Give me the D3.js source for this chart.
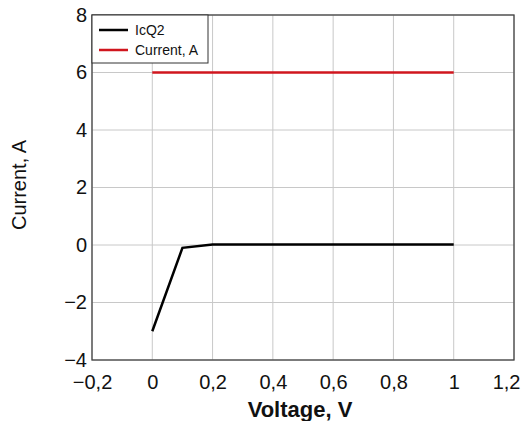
<!DOCTYPE html>
<html><head><meta charset="utf-8">
<script src="https://cdn.jsdelivr.net/npm/d3@7"></script>
<style>body{margin:0;background:#fff}</style>
</head><body>
<svg id="c" width="530" height="421"></svg>
<script>
const xTicks = [-0.2, 0, 0.2, 0.4, 0.6, 0.8, 1, 1.2];
const yTicks = [-4, -2, 0, 2, 4, 6, 8];
const icq2X = [0, 0.1, 0.2, 0.3, 0.4, 0.5, 0.6, 0.7, 0.8, 0.9, 1];
const icq2Y = [-3, -0.1, 0.02, 0.02, 0.02, 0.02, 0.02, 0.02, 0.02, 0.02, 0.02];
const curX = [0, 0.1, 0.2, 0.3, 0.4, 0.5, 0.6, 0.7, 0.8, 0.9, 1];
const curY = [6, 6, 6, 6, 6, 6, 6, 6, 6, 6, 6];
const seriesNames = ["IcQ2", "Current, A"];
const seriesColors = ["#000000", "#d0161e"];

const FONT = "Liberation Sans, Arial, sans-serif";
const svg = d3.select("#c");
const L = 92, R = 514, T = 15, B = 360;
const x = d3.scaleLinear().domain([-0.2, 1.2]).range([L, R]);
const y = d3.scaleLinear().domain([-4, 8]).range([B, T]);
const fmt = d => (d < 0 ? "\u2212" : "") + String(Math.abs(+d.toFixed(1))).replace(".", ",");

// grid
svg.append("g").selectAll("line").data(xTicks).join("line")
  .attr("x1", d => x(d)).attr("x2", d => x(d)).attr("y1", T).attr("y2", B)
  .attr("stroke", "#c8c8c8").attr("stroke-width", 1);
svg.append("g").selectAll("line").data(yTicks).join("line")
  .attr("y1", d => y(d)).attr("y2", d => y(d)).attr("x1", L).attr("x2", R)
  .attr("stroke", "#c8c8c8").attr("stroke-width", 1);

// axes
const xa = svg.append("g").attr("transform", `translate(0,${B})`)
  .call(d3.axisBottom(x).tickValues(xTicks).tickFormat(fmt).tickSize(0));
const ya = svg.append("g").attr("transform", `translate(${L},0)`)
  .call(d3.axisLeft(y).tickValues(yTicks).tickFormat(fmt).tickSize(0).tickPadding(5));
[xa, ya].forEach(a => {
  a.select(".domain").remove();
  a.selectAll("text").attr("font-family", FONT)
    .attr("font-size", 20).attr("fill", "#111");
});
xa.selectAll("text").attr("y", 29).attr("dy", 0);
xa.selectAll(".tick").filter(d => d === 1.2).select("text")
  .attr("text-anchor", "end").attr("x", 6);

// frame
svg.append("rect").attr("x", L).attr("y", T).attr("width", R - L).attr("height", B - T)
  .attr("fill", "none").attr("stroke", "#444").attr("stroke-width", 1.3);

// lines
const line = d3.line().x(d => x(d[0])).y(d => y(d[1]));
svg.append("path").datum(curX.map((v, i) => [v, curY[i]])).attr("d", line)
  .attr("fill", "none").attr("stroke", seriesColors[1]).attr("stroke-width", 2.5);
svg.append("path").datum(icq2X.map((v, i) => [v, icq2Y[i]])).attr("d", line)
  .attr("fill", "none").attr("stroke", seriesColors[0]).attr("stroke-width", 2.5);

// legend
const lg = svg.append("g");
lg.append("rect").attr("x", L).attr("y", T).attr("width", 116).attr("height", 48)
  .attr("fill", "#fff").attr("stroke", "#333").attr("stroke-width", 1);
seriesNames.forEach((n, i) => {
  const yy = 30 + i * 20;
  lg.append("line").attr("x1", 99).attr("x2", 128).attr("y1", yy).attr("y2", yy)
    .attr("stroke", seriesColors[i]).attr("stroke-width", 2.5);
  lg.append("text").attr("x", 135).attr("y", yy + 5).text(n)
    .attr("font-family", FONT).attr("font-size", 14).attr("fill", "#111");
});

// titles
svg.append("text").attr("x", 300).attr("y", 417).attr("text-anchor", "middle")
  .attr("font-family", FONT).attr("font-size", 22)
  .attr("font-weight", "bold").attr("fill", "#111").text("Voltage, V");
svg.append("text").attr("transform", `translate(19,185) rotate(-90)`)
  .attr("text-anchor", "middle").attr("dy", "0.35em")
  .attr("font-family", FONT).attr("font-size", 20)
  .attr("fill", "#111").text("Current, A");
</script>
</body></html>
